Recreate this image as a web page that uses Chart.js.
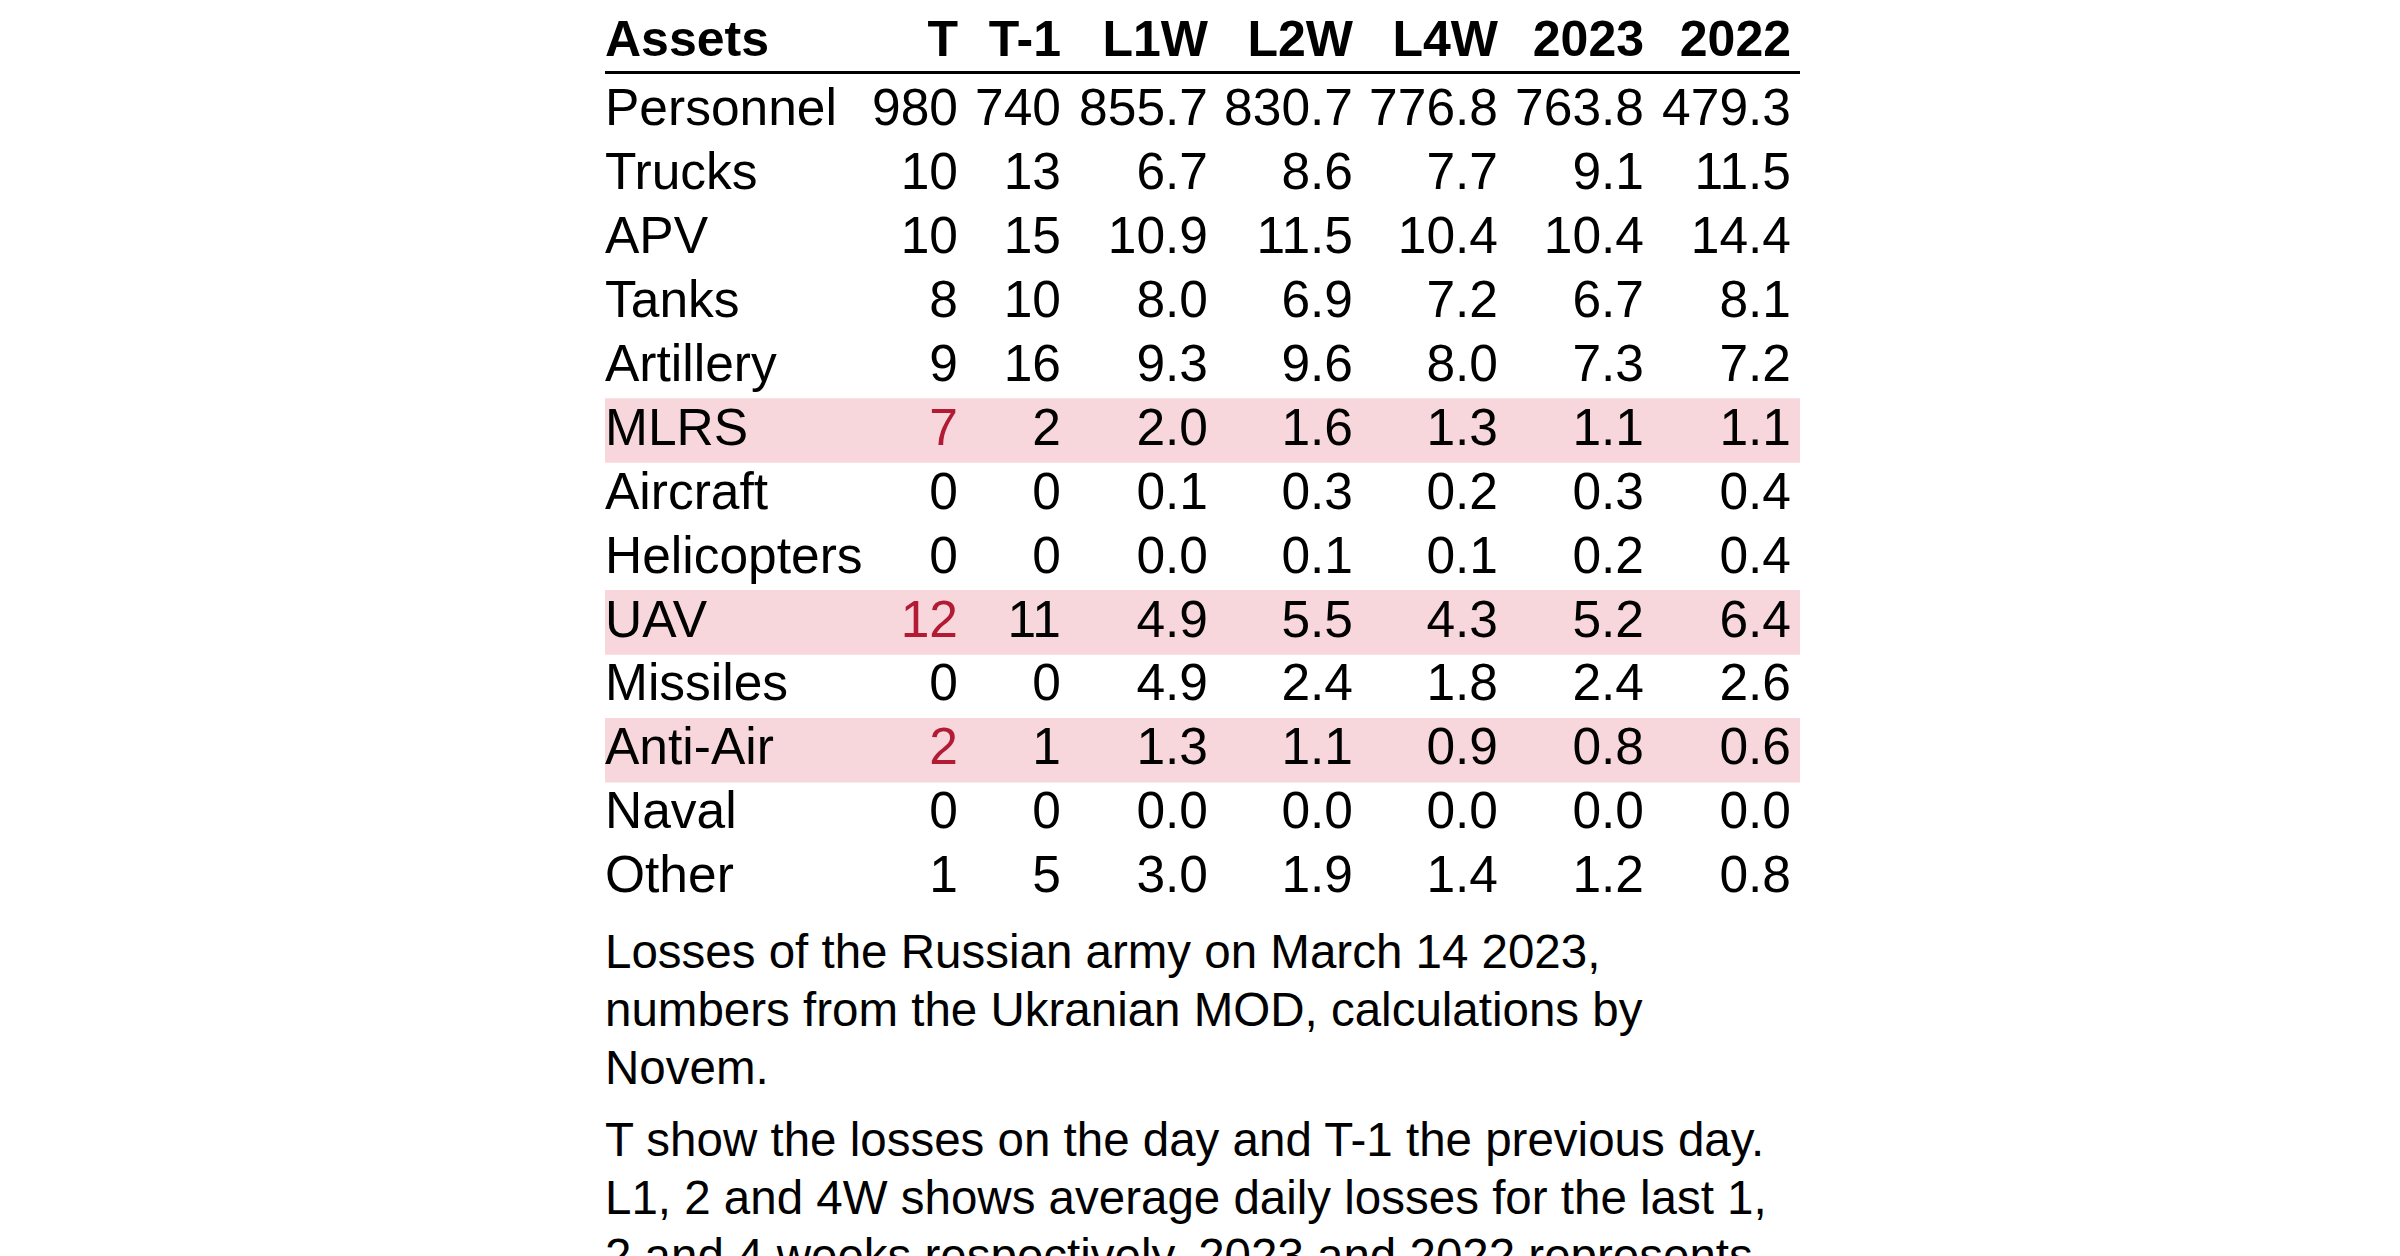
<!DOCTYPE html>
<html>
<head>
<meta charset="utf-8">
<script src="https://cdn.jsdelivr.net/npm/chart.js@4"></script>
<style>
  body { margin: 0; background: #fff; font-family: 'Liberation Sans', Arial, sans-serif; }
  #wrap { position: absolute; left: 605px; top: 0; width: 1195px; height: 920px; }
  .note { position: absolute; left: 605px; width: 1400px; font-size: 47.5px; line-height: 58px; color: #000; margin: 0; }
</style>
</head>
<body>
<div id="wrap"><canvas id="tbl"></canvas></div>
<p class="note" style="top:923px">Losses of the Russian army on March 14 2023,<br>numbers from the Ukranian MOD, calculations by<br>Novem.</p>
<p class="note" style="top:1111px">T show the losses on the day and T-1 the previous day.<br>L1, 2 and 4W shows average daily losses for the last 1,<br>2 and 4 weeks respectively. 2023 and 2022 represents</p>
<script>
// Table data
const headers = ['Assets', 'T', 'T-1', 'L1W', 'L2W', 'L4W', '2023', '2022'];
const assets = ['Personnel', 'Trucks', 'APV', 'Tanks', 'Artillery', 'MLRS', 'Aircraft',
                'Helicopters', 'UAV', 'Missiles', 'Anti-Air', 'Naval', 'Other'];
const today = ['980', '10', '10', '8', '9', '7', '0', '0', '12', '0', '2', '0', '1'];
const prevDay = ['740', '13', '15', '10', '16', '2', '0', '0', '11', '0', '1', '0', '5'];
const last1w = ['855.7', '6.7', '10.9', '8.0', '9.3', '2.0', '0.1', '0.0', '4.9', '4.9', '1.3', '0.0', '3.0'];
const last2w = ['830.7', '8.6', '11.5', '6.9', '9.6', '1.6', '0.3', '0.1', '5.5', '2.4', '1.1', '0.0', '1.9'];
const last4w = ['776.8', '7.7', '10.4', '7.2', '8.0', '1.3', '0.2', '0.1', '4.3', '1.8', '0.9', '0.0', '1.4'];
const avg2023 = ['763.8', '9.1', '10.4', '6.7', '7.3', '1.1', '0.3', '0.2', '5.2', '2.4', '0.8', '0.0', '1.2'];
const avg2022 = ['479.3', '11.5', '14.4', '8.1', '7.2', '1.1', '0.4', '0.4', '6.4', '2.6', '0.6', '0.0', '0.8'];
const highlighted = ['MLRS', 'UAV', 'Anti-Air'];

const valueCols = [today, prevDay, last1w, last2w, last4w, avg2023, avg2022];
// right edges of the value columns, px from the table's left edge
const colRight = [353, 456, 603, 748, 893, 1039, 1186];

const tableText = {
    id: 'tableText',
    afterDatasetsDraw(chart) {
        const ctx = chart.ctx;
        const y = chart.scales.y;
        const left = chart.chartArea.left;
        ctx.save();
        ctx.textBaseline = 'middle';
        // header
        ctx.font = "bold 50px 'Liberation Sans', Arial, sans-serif";
        ctx.fillStyle = '#000';
        ctx.textAlign = 'left';
        ctx.fillText(headers[0], left, 42);
        ctx.textAlign = 'right';
        headers.slice(1).forEach((h, i) => ctx.fillText(h, left + colRight[i], 42));
        ctx.fillRect(left, 71, 1195, 3);
        // rows
        ctx.font = "51.5px 'Liberation Sans', Arial, sans-serif";
        assets.forEach((name, r) => {
            const py = y.getPixelForValue(r);
            const hot = highlighted.includes(name);
            ctx.fillStyle = '#000';
            ctx.textAlign = 'left';
            ctx.fillText(name, left, py);
            ctx.textAlign = 'right';
            valueCols.forEach((col, c) => {
                ctx.fillStyle = (hot && c === 0) ? '#b31b34' : '#000';
                ctx.fillText(col[r], left + colRight[c], py);
            });
        });
        ctx.restore();
    }
};

new Chart(document.getElementById('tbl'), {
    type: 'bar',
    data: {
        labels: assets,
        datasets: [{
            data: assets.map(a => highlighted.includes(a) ? [0, 1] : null),
            backgroundColor: '#f7d7dc',
            barPercentage: 1,
            categoryPercentage: 1
        }]
    },
    options: {
        indexAxis: 'y',
        responsive: true,
        maintainAspectRatio: false,
        animation: false,
        layout: { padding: { top: 79, bottom: 10, left: 0, right: 0 } },
        plugins: { legend: { display: false }, tooltip: { enabled: false } },
        scales: {
            x: { min: 0, max: 1, display: false },
            y: { display: false }
        }
    },
    plugins: [tableText]
});
</script>
</body>
</html>
